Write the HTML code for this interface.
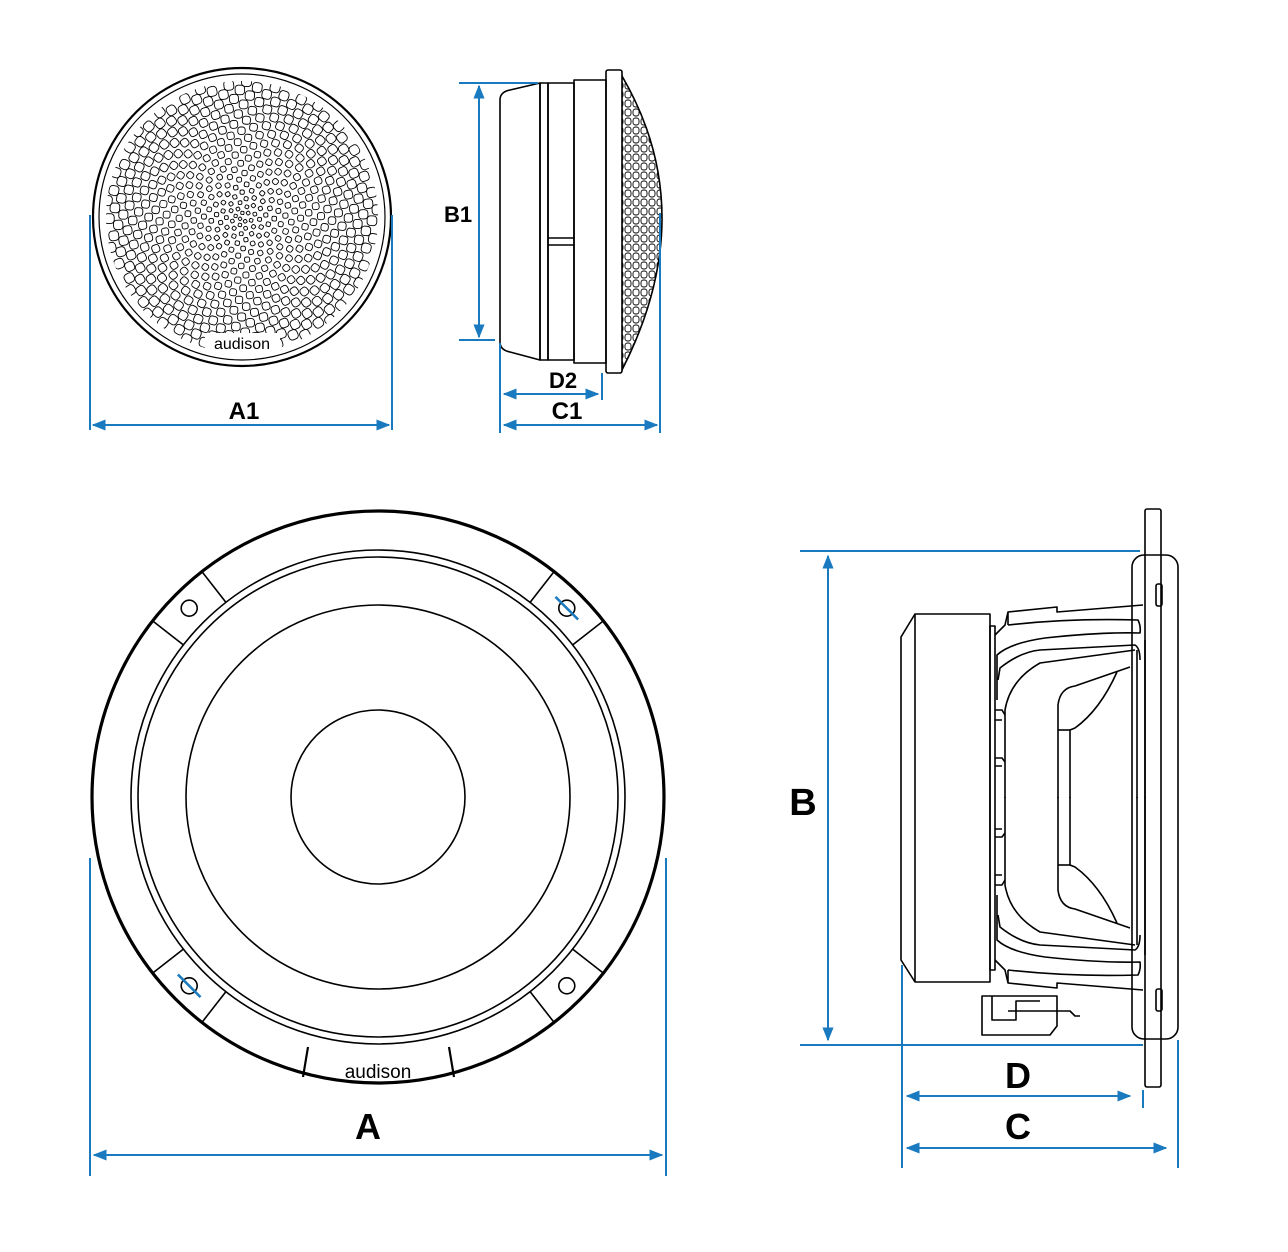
<!DOCTYPE html>
<html><head><meta charset="utf-8"><style>
html,body{margin:0;padding:0;background:#fff}
svg{display:block}
.l{fill:none;stroke:#000;stroke-width:1.6;stroke-linejoin:round}
.b{fill:none;stroke:#1a7abf;stroke-width:2}
.t{font-family:"Liberation Sans",sans-serif;font-weight:bold;fill:#000}
</style></head><body>
<svg id="s" width="1288" height="1252" viewBox="0 0 1288 1252" xmlns="http://www.w3.org/2000/svg">
<defs>
<marker id="ar" viewBox="0 0 10 10" refX="9" refY="5" markerWidth="7" markerHeight="7" orient="auto-start-reverse"><path d="M0,1 L10,5 L0,9 Z" fill="#1a7abf"/></marker>
<clipPath id="gc"><circle cx="242" cy="217" r="136"/></clipPath>
<pattern id="dp" width="8" height="9" patternUnits="userSpaceOnUse"><rect x="1" y="1" width="6" height="7" rx="2.5" fill="none" stroke="#000" stroke-width="0.9"/></pattern>
<clipPath id="dc"><path d="M622,76 Q702,213 622,370 Z"/></clipPath>
</defs>

<!-- Tweeter front -->
<circle cx="242" cy="217" r="149" class="l" style="stroke-width:2.2"/>
<circle cx="242" cy="217" r="143" class="l" style="stroke-width:1.2"/>
<g id="grille" clip-path="url(#gc)"></g>
<rect x="205" y="333" width="75" height="20" fill="#fff"/>
<text x="242" y="349" font-family="Liberation Sans,sans-serif" font-size="16" text-anchor="middle">audison</text>

<!-- Tweeter side -->
<path class="l" d="M500,100 Q500,92 510,90 L540,83 L540,360 L510,352 Q500,350 500,342 Z"/>
<rect class="l" x="540" y="83" width="8" height="277"/>
<rect class="l" x="548" y="83" width="26" height="277"/>
<line class="l" x1="548" y1="238" x2="574" y2="238"/><line class="l" x1="548" y1="245" x2="574" y2="245"/>
<rect class="l" x="574" y="80" width="32" height="283"/>
<rect class="l" x="606" y="70" width="16" height="303" rx="2"/>
<rect x="622" y="70" width="60" height="310" fill="url(#dp)" clip-path="url(#dc)"/>
<path class="l" d="M622,76 Q702,213 622,370"/>

<!-- Tweeter dims -->
<line class="b" x1="90" y1="215" x2="90" y2="430"/>
<line class="b" x1="392" y1="215" x2="392" y2="430"/>
<line class="b" x1="93" y1="425" x2="389" y2="425" marker-start="url(#ar)" marker-end="url(#ar)"/>
<text class="t" x="244" y="419" font-size="24" text-anchor="middle">A1</text>
<line class="b" x1="459" y1="83" x2="538" y2="83"/>
<line class="b" x1="459" y1="340" x2="495" y2="340"/>
<line class="b" x1="479" y1="86" x2="479" y2="337" marker-start="url(#ar)" marker-end="url(#ar)"/>
<text class="t" x="458" y="222" font-size="22" text-anchor="middle">B1</text>
<line class="b" x1="500" y1="343" x2="500" y2="433"/>
<line class="b" x1="602" y1="373" x2="602" y2="400"/>
<line class="b" x1="660" y1="213" x2="660" y2="433"/>
<line class="b" x1="504" y1="394" x2="598" y2="394" marker-start="url(#ar)" marker-end="url(#ar)"/>
<text class="t" x="563" y="388" font-size="22" text-anchor="middle">D2</text>
<line class="b" x1="504" y1="425" x2="657" y2="425" marker-start="url(#ar)" marker-end="url(#ar)"/>
<text class="t" x="567" y="419" font-size="24" text-anchor="middle">C1</text>

<!-- Woofer front -->
<circle cx="378" cy="797" r="286" class="l" style="stroke-width:3.2"/>
<circle cx="378" cy="797" r="247" class="l"/>
<circle cx="378" cy="797" r="240" class="l"/>
<circle cx="378" cy="797" r="192" class="l"/>
<circle cx="378" cy="797" r="87" class="l"/>
<g id="ears"></g>
<path class="l" style="stroke-width:2.2" d="M308,1047 L303,1077 M449,1047 L454,1077"/>
<text x="378" y="1078" font-family="Liberation Sans,sans-serif" font-size="19" text-anchor="middle">audison</text>

<!-- Woofer dims -->
<line class="b" x1="90" y1="858" x2="90" y2="1176"/>
<line class="b" x1="666" y1="858" x2="666" y2="1176"/>
<line class="b" x1="94" y1="1155" x2="662" y2="1155" marker-start="url(#ar)" marker-end="url(#ar)"/>
<text class="t" x="368" y="1139" font-size="36" text-anchor="middle">A</text>

<!-- Woofer side -->
<rect class="l" x="1132" y="555" width="46" height="484" rx="12"/>
<rect class="l" x="1145" y="509" width="16" height="578" rx="2" fill="#fff"/>
<rect class="l" x="1156" y="584" width="6" height="22" rx="2"/>
<rect class="l" x="1156" y="989" width="6" height="22" rx="2"/>
<path class="l" d="M915,614 L990,614 L990,982 L915,982 L901,960 L901,637 Z"/>
<line class="l" x1="915" y1="614" x2="915" y2="982"/>
<rect class="l" x="990" y="626" width="5" height="344"/>
<g id="half">
<path class="l" d="M995,635 L1005,625 L1008,612 L1057,607 L1057,612 L1143,605"/>
<path class="l" d="M1008,625 L1008,612"/>
<path class="l" d="M1008,625 Q1070,618 1138,620 Q1141,626 1140,633 Q1100,632 1045,638 Q1010,643 997,655 L997,700"/>
<path class="l" d="M998,680 L1000,668 Q1020,652 1040,650 L1135,645 Q1140,648 1140,660"/>
<path class="l" d="M1005,798 L1005,710 Q1010,680 1040,663 L1135,650"/>
<path class="l" d="M1058,798 L1058,705 Q1060,688 1075,686 L1130,667"/>
<path class="l" d="M1070,798 L1070,730 L1075,728 Q1100,710 1117,672"/>
<line class="l" x1="1058" y1="730" x2="1070" y2="730"/>
<line class="l" x1="1137" y1="650" x2="1137" y2="798"/>
<line class="l" x1="1145" y1="640" x2="1145" y2="798"/>
<path class="l" d="M995,710 L1002,710 L1005,715 M995,720 L1002,720 M995,758 L1002,758 L1005,762 M995,766 L1002,766"/>
</g>
<use href="#half" transform="translate(0,1595) scale(1,-1)"/>
<path class="l" d="M982,996 L1057,996 L1057,1026 L1050,1035 L982,1035 Z M992,996 L992,1020 L1016,1020 L1016,1001 L1040,1001" />
<path class="l" d="M1008,1011 L1070,1011 L1075,1016 L1080,1016" />

<!-- Woofer side dims -->
<line class="b" x1="800" y1="551" x2="1140" y2="551"/>
<line class="b" x1="800" y1="1045" x2="1143" y2="1045"/>
<line class="b" x1="828" y1="556" x2="828" y2="1040" marker-start="url(#ar)" marker-end="url(#ar)"/>
<text class="t" x="803" y="815" font-size="38" text-anchor="middle">B</text>
<line class="b" x1="902" y1="965" x2="902" y2="1168"/>
<line class="b" x1="1143" y1="1090" x2="1143" y2="1108"/>
<line class="b" x1="1178" y1="1040" x2="1178" y2="1168"/>
<line class="b" x1="907" y1="1096" x2="1130" y2="1096" marker-start="url(#ar)" marker-end="url(#ar)"/>
<text class="t" x="1018" y="1088" font-size="36" text-anchor="middle">D</text>
<line class="b" x1="907" y1="1148" x2="1166" y2="1148" marker-start="url(#ar)" marker-end="url(#ar)"/>
<text class="t" x="1018" y="1139" font-size="36" text-anchor="middle">C</text>
</svg>
<script>
var g=document.getElementById('grille'),h="";
var N=560,R=136,ga=137.508*Math.PI/180;
for(var i=1;i<N;i++){var r=R*Math.pow(i/N,0.62);var a=i*ga;var x=242+r*Math.cos(a),y=217+r*Math.sin(a);var s=3+7*(r/R);
h+='<rect x="'+(x-s/2).toFixed(1)+'" y="'+(y-s/2).toFixed(1)+'" width="'+s.toFixed(1)+'" height="'+s.toFixed(1)+'" rx="'+(s*0.35).toFixed(1)+'" transform="rotate('+(a*180/Math.PI).toFixed(0)+' '+x.toFixed(1)+' '+y.toFixed(1)+')" fill="none" stroke="#000" stroke-width="0.9"/>';}
g.innerHTML=h;
var e=document.getElementById('ears'),eh="";
[[-135,0],[-45,1],[135,1],[45,0]].forEach(function(p){var a0=p[0]*Math.PI/180;
[-7,7].forEach(function(d){var a=a0+d*Math.PI/180;eh+='<line class="l" x1="'+(378+247*Math.cos(a))+'" y1="'+(797+247*Math.sin(a))+'" x2="'+(378+285*Math.cos(a))+'" y2="'+(797+285*Math.sin(a))+'"/>';});
var cx=378+267*Math.cos(a0),cy=797+267*Math.sin(a0);
eh+='<rect x="'+(cx-9)+'" y="'+(cy-9)+'" width="18" height="18" fill="#fff"/><circle class="l" cx="'+cx+'" cy="'+cy+'" r="8"/>';
if(p[1]){var tx=-Math.sin(a0),ty=Math.cos(a0);eh+='<line class="b" style="stroke-width:2.6" x1="'+(cx-16*tx)+'" y1="'+(cy-16*ty)+'" x2="'+(cx+16*tx)+'" y2="'+(cy+16*ty)+'"/>';}
});
e.innerHTML=eh;
</script>
</body></html>
